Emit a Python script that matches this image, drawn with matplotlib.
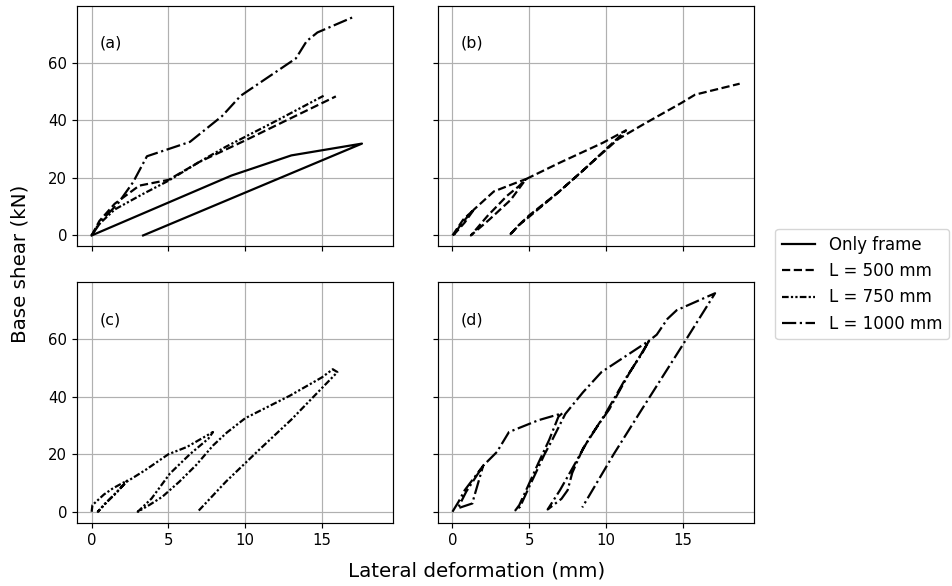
import matplotlib
matplotlib.use("Agg")
import matplotlib.pyplot as plt

# Monotonic response curves, panel (a)
frame_x = [0, 9.1, 13.0, 17.6, 3.35]
frame_y = [0, 20.8, 27.8, 31.9, 0]

env500_x = [0, 0.5, 1.5, 3.1, 5.0, 7.0, 10.0, 13.0, 15.9]
env500_y = [0, 5.0, 11.0, 17.3, 19.3, 25.5, 33.0, 40.8, 48.3]

env750_x = [0, 0.4, 1.5, 3.3, 5.0, 7.0, 8.7, 11.8, 15.1]
env750_y = [0, 3.5, 9.0, 14.3, 19.0, 25.5, 30.7, 39.2, 48.5]

env1000_x = [0, 0.7, 1.7, 2.7, 3.6, 6.4, 8.5, 9.7, 13.3, 14.0, 14.7, 17.1]
env1000_y = [0, 5.5, 11.0, 18.5, 27.5, 32.5, 41.5, 48.5, 61.5, 67.5, 70.5, 76.0]

# Cyclic response, L = 500 mm, panel (b)
hyst500_x = [0, 0.7, 1.4, 0.8, 0.1, 0.6, 1.4, 2.7, 4.1, 4.8,
             4.3, 3.56, 2.27, 1.2,
             2.4, 3.8, 4.6, 4.8, 7.0, 9.8, 11.3,
             11.0, 10.0, 8.5, 6.9, 5.0, 4.3, 3.7,
             4.5, 5.0, 6.9, 9.0, 10.8, 11.6, 12.5, 14.9, 15.8, 18.7]
hyst500_y = [0, 5.5, 9.0, 4.5, 0.3, 4.2, 9.0, 15.3, 18.2, 19.6,
             17.0, 13.8, 6.7, 0,
             5.5, 12.4, 18.2, 19.6, 25.3, 32.2, 36.5,
             35.0, 30.0, 22.5, 15.0, 6.5, 3.5, 0,
             4.5, 7.0, 15.0, 25.0, 33.5, 36.0, 38.8, 46.0, 48.9, 52.7]

# Cyclic response, L = 750 mm, panel (c)
hyst750_x = [0, 0.05, 0.8, 1.4, 2.3, 1.6, 0.9, 0.4,
             1.2, 2.3, 3.5, 5.0, 6.2, 7.9,
             7.6, 6.4, 5.1, 3.9, 3.0,
             3.8, 4.6, 5.7, 6.8, 7.9, 8.8, 10.0, 12.9, 15.0, 15.7,
             16.0, 13.0, 10.9, 8.75, 6.9]
hyst750_y = [0, 2.3, 6.0, 8.2, 10.8, 6.5, 3.0, 0,
             4.5, 10.5, 14.5, 20.0, 22.5, 27.7,
             25.4, 20.0, 13.3, 4.6, 0,
             2.5, 5.2, 10.4, 16.2, 23.0, 27.5, 32.5, 40.3, 46.7, 49.5,
             48.5, 32.0, 21.5, 10.5, 0]

# Cyclic response, L = 1000 mm, panel (d)
hyst1000_x = [0, 0.4, 0.8, 2.0, 1.4, 1.3, 0.35,
              0.9, 2.0, 2.9, 3.68, 5.6, 7.15,
              6.9, 6.3, 5.6, 4.9, 4.35, 4.1,
              4.4, 5.0, 6.0, 6.5, 7.35, 8.5, 9.7, 12.8,
              12.4, 11.3, 9.9, 8.9, 7.8, 7.0, 6.2,
              7.1, 7.5, 7.8, 8.5, 9.6, 10.2, 11.5, 12.2, 12.8,
              13.3, 14.0, 14.6, 17.1,
              15.0, 12.3, 10.5, 8.45]
hyst1000_y = [0, 3.5, 7.5, 16.0, 5.0, 2.9, 1.2,
              7.0, 16.0, 20.8, 27.7, 31.8, 34.2,
              33.0, 25.0, 17.0, 8.7, 2.3, 0.5,
              1.7, 8.7, 20.0, 25.0, 34.0, 41.5, 48.5, 59.4,
              55.5, 46.5, 33.5, 25.5, 15.0, 7.5, 0.8,
              4.5, 7.5, 13.5, 22.0, 31.0, 35.5, 48.0, 54.0, 59.4,
              61.5, 67.0, 70.0, 75.9,
              58.0, 35.3, 20.0, 1.5]

labels = ["Only frame", "L = 500 mm", "L = 750 mm", "L = 1000 mm"]
panel_tags = ["(a)", "(b)", "(c)", "(d)"]

LW = 1.6
STYLE_FRAME = "-"
STYLE_500 = "--"
STYLE_750 = (0, (3, 1, 1, 1, 1, 1))
STYLE_1000 = "-."

fig, axes = plt.subplots(2, 2, figsize=(9.53, 5.86), dpi=100,
                         sharex=True, sharey=True)
fig.subplots_adjust(left=0.0811, right=0.7912, top=0.9903, bottom=0.108,
                    wspace=0.142, hspace=0.148)

ax_a, ax_b, ax_c, ax_d = axes.flat

h_frame, = ax_a.plot(frame_x, frame_y, color="black", lw=LW, ls=STYLE_FRAME)
h500, = ax_a.plot(env500_x, env500_y, color="black", lw=LW, ls=STYLE_500)
h750, = ax_a.plot(env750_x, env750_y, color="black", lw=LW, ls=STYLE_750)
h1000, = ax_a.plot(env1000_x, env1000_y, color="black", lw=LW, ls=STYLE_1000)

ax_b.plot(hyst500_x, hyst500_y, color="black", lw=LW, ls=STYLE_500)
ax_c.plot(hyst750_x, hyst750_y, color="black", lw=LW, ls=STYLE_750)
ax_d.plot(hyst1000_x, hyst1000_y, color="black", lw=LW, ls=STYLE_1000)

for ax, tag in zip(axes.flat, panel_tags):
    ax.grid(True, color="#b0b0b0", lw=0.85)
    ax.set_axisbelow(True)
    ax.tick_params(labelsize=10.7, length=3.75, width=0.85)
    ax.text(0.072, 0.843, tag, transform=ax.transAxes, ha="left",
            va="center", fontsize=11.4)
    for sp in ax.spines.values():
        sp.set_linewidth(0.85)

ax_a.set_xticks([0, 5, 10, 15])
ax_a.set_yticks([0, 20, 40, 60])

fig.text(0.5, 0.026, "Lateral deformation (mm)", ha="center",
         va="center", fontsize=14.3)
fig.text(0.021, 0.549, "Base shear (kN)", ha="center", va="center",
         rotation=90, fontsize=14.3)

fig.legend([h_frame, h500, h750, h1000], labels, loc="center left",
           bbox_to_anchor=(0.805, 0.515), fontsize=12.0)

fig.savefig("out.png", dpi=100)
